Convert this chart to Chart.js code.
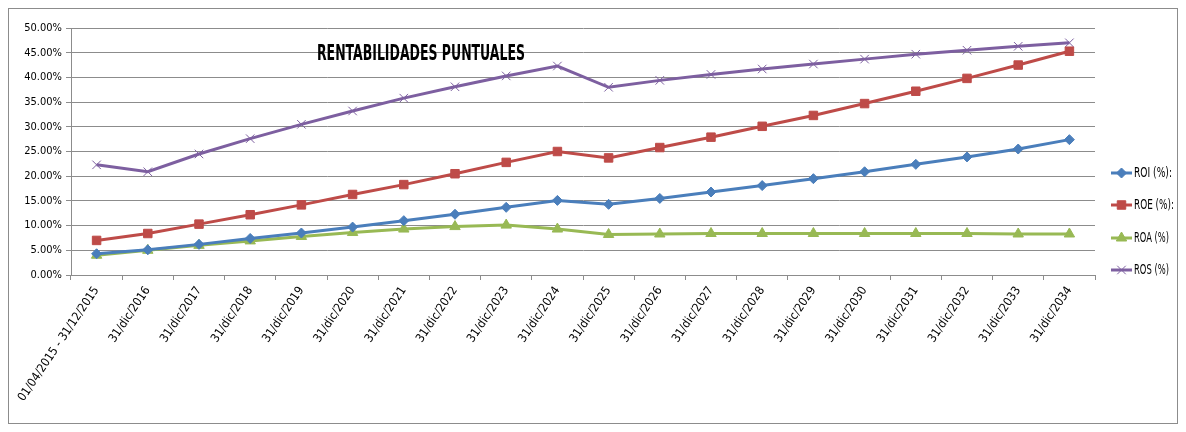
<!DOCTYPE html>
<html>
<head>
<meta charset="utf-8">
<script src="https://cdn.jsdelivr.net/npm/chart.js@4.4.1/dist/chart.umd.min.js"></script>
<style>
  html, body { margin: 0; padding: 0; background: #fff; }
  #wrap { width: 1186px; height: 432px; }
</style>
</head>
<body>
<div id="wrap"><canvas id="chart" width="1186" height="432"></canvas></div>
<script>
// categorías (fechas de cierre)
const periods = [
  '01/04/2015 - 31/12/2015', '31/dic/2016', '31/dic/2017', '31/dic/2018', '31/dic/2019',
  '31/dic/2020', '31/dic/2021', '31/dic/2022', '31/dic/2023', '31/dic/2024',
  '31/dic/2025', '31/dic/2026', '31/dic/2027', '31/dic/2028', '31/dic/2029',
  '31/dic/2030', '31/dic/2031', '31/dic/2032', '31/dic/2033', '31/dic/2034'
];

// valores en %
const roi = [4.3, 5.1, 6.2, 7.4, 8.5, 9.7, 11.0, 12.3, 13.7, 15.1, 14.3, 15.5, 16.8, 18.1, 19.5, 20.9, 22.4, 23.9, 25.5, 27.4];
const roe = [7.0, 8.4, 10.3, 12.2, 14.2, 16.3, 18.3, 20.5, 22.8, 25.0, 23.7, 25.8, 27.9, 30.1, 32.3, 34.7, 37.2, 39.8, 42.5, 45.3];
const roa = [4.0, 5.0, 6.0, 6.9, 7.8, 8.6, 9.3, 9.8, 10.1, 9.3, 8.2, 8.3, 8.4, 8.4, 8.4, 8.4, 8.4, 8.4, 8.3, 8.3];
const ros = [22.3, 20.9, 24.5, 27.6, 30.5, 33.2, 35.8, 38.1, 40.3, 42.3, 38.0, 39.4, 40.6, 41.7, 42.7, 43.7, 44.7, 45.5, 46.3, 47.0];

const seriesNames = ['ROI (%):', 'ROE (%):', 'ROA (%)', 'ROS (%)'];
const chartTitle = 'RENTABILIDADES PUNTUALES';

const FONT = "'DejaVu Sans Condensed', 'Liberation Sans Narrow', sans-serif";

function serie(label, data, color, style, radius) {
  return {
    label: label,
    data: data,
    borderColor: color,
    backgroundColor: color,
    borderWidth: 3,
    pointStyle: style,
    pointRadius: radius,
    pointHoverRadius: radius,
    pointBorderWidth: 1,
    pointBorderColor: color,
    pointBackgroundColor: color,
    tension: 0
  };
}

// texto estrechado (la fuente original es muy condensada)
function narrowText(ctx, txt, x, y, font, width, align) {
  ctx.save();
  ctx.font = font;
  const w = ctx.measureText(txt).width;
  const k = width / w;
  ctx.translate(x, y);
  ctx.scale(k, 1);
  ctx.textAlign = align;
  ctx.textBaseline = 'middle';
  ctx.fillText(txt, 0, 0);
  ctx.restore();
}

// marco exterior del gráfico
const frame = {
  id: 'frame',
  beforeDraw(chart) {
    const ctx = chart.ctx;
    ctx.save();
    ctx.fillStyle = '#fff';
    ctx.fillRect(0, 0, chart.width, chart.height);
    ctx.strokeStyle = '#8c8c8c';
    ctx.lineWidth = 1;
    ctx.strokeRect(8.5, 8.5, chart.width - 17, chart.height - 17);
    ctx.restore();
  }
};

// título dentro del área de trazado
const innerTitle = {
  id: 'innerTitle',
  afterDatasetsDraw(chart) {
    const ctx = chart.ctx;
    ctx.fillStyle = '#000';
    narrowText(ctx, chartTitle, 421, 55, 'bold 21px ' + FONT, 208, 'center');
  }
};

// leyenda estilo Excel (línea con marcador)
const sideLegend = {
  id: 'sideLegend',
  afterDraw(chart) {
    const ctx = chart.ctx;
    const x0 = 1111, x1 = 1132;
    const ys = [173, 205, 238, 270];
    const widths = [38, 40, 35, 35];
    ctx.save();
    chart.data.datasets.forEach((ds, i) => {
      const y = ys[i];
      ctx.strokeStyle = ds.borderColor;
      ctx.lineWidth = 3;
      ctx.beginPath();
      ctx.moveTo(x0, y);
      ctx.lineTo(x1, y);
      ctx.stroke();
      ctx.fillStyle = ds.borderColor;
      ctx.strokeStyle = ds.borderColor;
      ctx.lineWidth = 1;
      Chart.helpers.drawPoint(ctx, {
        pointStyle: ds.pointStyle,
        radius: ds.pointRadius,
        borderWidth: 1,
        rotation: 0
      }, (x0 + x1) / 2, y);
      ctx.fillStyle = '#000';
      narrowText(ctx, ds.label, x1 + 2, y, '14px ' + FONT, widths[i], 'left');
    });
    ctx.restore();
  }
};

new Chart(document.getElementById('chart'), {
  type: 'line',
  data: {
    labels: periods,
    datasets: [
      serie(seriesNames[0], roi, '#4a7ebb', 'rectRot', 5),
      serie(seriesNames[1], roe, '#be4b48', 'rect', 6),
      serie(seriesNames[2], roa, '#98b954', 'triangle', 6),
      serie(seriesNames[3], ros, '#7d5fa0', 'crossRot', 6)
    ]
  },
  options: {
    responsive: false,
    animation: false,
    devicePixelRatio: 1,
    layout: { padding: { left: 10, top: 28, right: 91, bottom: 10 } },
    plugins: {
      legend: { display: false },
      tooltip: { enabled: false },
      title: { display: false }
    },
    scales: {
      x: {
        offset: true,
        grid: {
          offset: true,
          drawOnChartArea: false,
          drawTicks: true,
          tickLength: 5,
          color: '#8c8c8c'
        },
        border: { color: '#8c8c8c' },
        ticks: {
          autoSkip: false,
          maxRotation: 56,
          minRotation: 56,
          color: '#000',
          padding: 4,
          font: { family: FONT, size: 12 }
        },
        afterFit(scale) { scale.height = 147; }
      },
      y: {
        min: 0,
        max: 50,
        ticks: {
          stepSize: 5,
          color: '#000',
          padding: 4,
          font: { family: FONT, size: 11 },
          callback: v => v.toFixed(2) + '%'
        },
        grid: { color: '#8c8c8c', tickLength: 5 },
        border: { color: '#8c8c8c' },
        afterFit(scale) { scale.width = 61; }
      }
    }
  },
  plugins: [frame, innerTitle, sideLegend]
});
</script>
</body>
</html>
